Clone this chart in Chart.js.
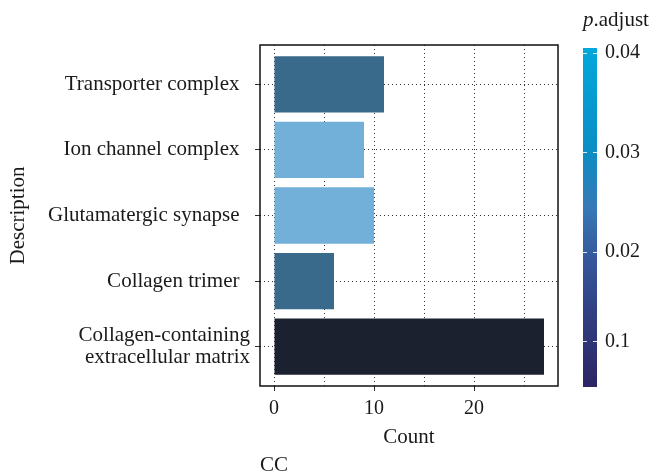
<!DOCTYPE html>
<html>
<head>
<meta charset="utf-8">
<script src="https://cdn.jsdelivr.net/npm/chart.js@4.4.0/dist/chart.umd.min.js"></script>
<style>
  html, body { margin: 0; padding: 0; background: #fff; }
  #wrap { width: 654px; height: 476px; }
</style>
</head>
<body>
<div id="wrap"><canvas id="goChart"></canvas></div>
<script>
// GO enrichment (CC) data, top to bottom
const categories = [
    'Transporter complex',
    'Ion channel complex',
    'Glutamatergic synapse',
    'Collagen trimer',
    ['Collagen-containing', 'extracellular matrix']
];
const counts = [11, 9, 10, 6, 27];
const barColors = ['#396a8b', '#72afd9', '#72afd9', '#396a8b', '#1c2130'];

// colour legend (p.adjust)
const legendTicks = [0.04, 0.03, 0.02, 0.011];
const legendLabels = ['0.04', '0.03', '0.02', '0.1'];
const legendRange = [0.0405, 0.0064];

const FONT = '"Liberation Serif", "Times New Roman", serif';
const TEXT = '#1a1a1a';

const panelPlugin = {
    id: 'panelExtras',
    afterDatasetsDraw(chart) {
        const { ctx, chartArea: a } = chart;
        ctx.save();
        // panel frame
        ctx.strokeStyle = '#111';
        ctx.lineWidth = 1.5;
        ctx.strokeRect(a.left, a.top, a.right - a.left, a.bottom - a.top);

        // colour bar
        const bx = 583, bw = 14, by0 = 48, by1 = 387;
        const grad = ctx.createLinearGradient(0, by0, 0, by1);
        grad.addColorStop(0, '#02a8db');
        grad.addColorStop(0.3, '#0a8dc5');
        grad.addColorStop(0.47, '#3679b6');
        grad.addColorStop(0.62, '#35589b');
        grad.addColorStop(0.82, '#303a7c');
        grad.addColorStop(1, '#2c2466');
        ctx.fillStyle = grad;
        ctx.fillRect(bx, by0, bw, by1 - by0);

        const toY = v => by0 + (legendRange[0] - v) / (legendRange[0] - legendRange[1]) * (by1 - by0);
        ctx.font = '20px ' + FONT;
        ctx.textBaseline = 'middle';
        ctx.textAlign = 'left';
        legendTicks.forEach((v, i) => {
            const y = Math.round(toY(v)) + 0.5;
            ctx.strokeStyle = 'rgba(255,255,255,0.85)';
            ctx.lineWidth = 1;
            ctx.beginPath();
            ctx.moveTo(bx, y); ctx.lineTo(bx + 4, y);
            ctx.moveTo(bx + bw - 4, y); ctx.lineTo(bx + bw, y);
            ctx.stroke();
            ctx.fillStyle = TEXT;
            ctx.fillText(legendLabels[i], 605, toY(v));
        });

        // legend title
        ctx.textBaseline = 'alphabetic';
        ctx.font = 'italic 21px ' + FONT;
        ctx.fillText('p', 583, 26);
        const pw = ctx.measureText('p').width;
        ctx.font = '21px ' + FONT;
        ctx.fillText('.adjust', 583 + pw, 26);

        // panel tag
        ctx.textBaseline = 'middle';
        ctx.fillText('CC', 260, 465);
        ctx.restore();
    }
};

const ctx = document.getElementById('goChart').getContext('2d');
new Chart(ctx, {
    type: 'bar',
    data: {
        datasets: [{
            data: counts.map((c, i) => ({ x: c, y: i })),
            backgroundColor: barColors,
            borderWidth: 0,
            barPercentage: 0.86,
            categoryPercentage: 1
        }]
    },
    options: {
        indexAxis: 'y',
        responsive: true,
        maintainAspectRatio: false,
        animation: false,
        layout: { padding: { top: 45, right: 96, left: 0, bottom: 0 } },
        plugins: {
            legend: { display: false },
            tooltip: { enabled: false }
        },
        scales: {
            x: {
                type: 'linear',
                min: -1.4,
                max: 28.4,
                afterFit: s => { s.height = 90; },
                ticks: {
                    stepSize: 5,
                    includeBounds: false,
                    autoSkip: false,
                    maxRotation: 0,
                    padding: 6,
                    color: TEXT,
                    font: { family: FONT, size: 20 },
                    callback: v => (v % 10 === 0 ? v : '')
                },
                grid: {
                    color: '#333',
                    lineWidth: 1,
                    tickLength: 5,
                    tickColor: c => (c.tick && c.tick.value % 10 === 0 ? '#333' : 'rgba(0,0,0,0)')
                },
                border: { display: false, dash: [1, 3] },
                title: {
                    display: true,
                    text: 'Count',
                    color: TEXT,
                    font: { family: FONT, size: 21 },
                    padding: { top: 0, bottom: 26 }
                }
            },
            y: {
                type: 'linear',
                min: -0.6,
                max: 4.6,
                reverse: true,
                offset: false,
                afterFit: s => { s.width = 260; },
                afterBuildTicks: s => { s.ticks = categories.map((_, i) => ({ value: i })); },
                ticks: {
                    autoSkip: false,
                    padding: 5,
                    color: TEXT,
                    font: { family: FONT, size: 21, lineHeight: 1.05 },
                    callback: v => {
                        const c = categories[v];
                        return Array.isArray(c) ? c : c + '  ';
                    }
                },
                grid: {
                    offset: false,
                    color: '#333',
                    lineWidth: 1,
                    tickLength: 5,
                    tickColor: '#333'
                },
                border: { display: false, dash: [1, 3] },
                title: {
                    display: true,
                    text: 'Description',
                    color: TEXT,
                    font: { family: FONT, size: 21 },
                    padding: { top: 6, bottom: 6 }
                }
            }
        }
    },
    plugins: [panelPlugin]
});
</script>
</body>
</html>
